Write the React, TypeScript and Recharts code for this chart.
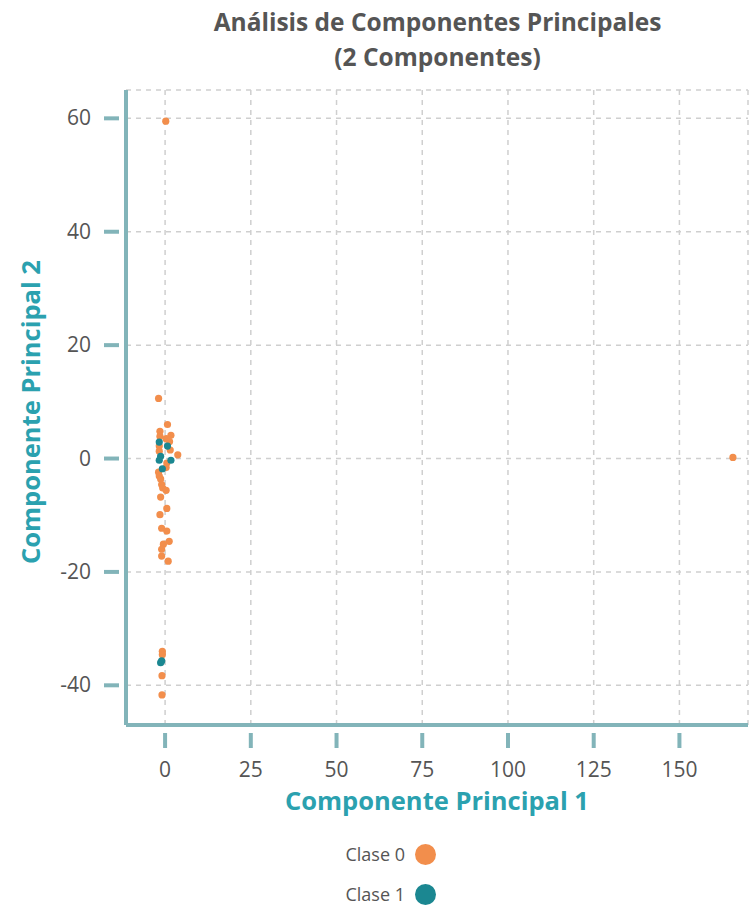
import React from "react";
import { ScatterChart, Scatter, XAxis, YAxis, CartesianGrid } from "recharts";

const C = { axis: "#82B4B9", grid: "#CFCFCF", tick: "#555555", title: "#555555", label: "#2BA1AF", c0: "#F28E4C", c1: "#1B8791" };
const FONT = "'Open Sans', 'DejaVu Sans', sans-serif";

const X_TICKS = [0, 25, 50, 75, 100, 125, 150];
const Y_TICKS = [-40, -20, 0, 20, 40, 60];

const CLASE_0 = [
  { x: 0.2, y: 59.5 }, { x: 165.6, y: 0.2 },
  { x: -1.9, y: 10.6 }, { x: 0.7, y: 6.0 }, { x: -1.5, y: 4.8 }, { x: 1.7, y: 4.1 },
  { x: -1.5, y: 3.9 }, { x: 0.3, y: 3.5 }, { x: 1.3, y: 3.0 }, { x: -1.7, y: 2.2 },
  { x: 1.5, y: 1.5 }, { x: 3.7, y: 0.65 }, { x: -1.7, y: 1.3 }, { x: 0.5, y: -0.8 },
  { x: 0.3, y: -1.6 }, { x: -1.9, y: -2.4 }, { x: -1.7, y: -3.1 }, { x: -1.3, y: -3.6 },
  { x: -1.0, y: -4.6 }, { x: -0.7, y: -5.2 }, { x: 0.3, y: -5.6 }, { x: -1.3, y: -6.8 },
  { x: 0.5, y: -8.8 }, { x: -1.5, y: -9.9 }, { x: -1.0, y: -12.3 }, { x: 0.5, y: -12.8 },
  { x: 1.2, y: -14.6 }, { x: -0.5, y: -15.1 }, { x: -1.0, y: -16.0 }, { x: -1.0, y: -17.2 },
  { x: 0.9, y: -18.1 }, { x: -0.8, y: -34.0 }, { x: -0.8, y: -34.6 }, { x: -0.9, y: -38.3 },
  { x: -0.9, y: -41.7 },
];
const CLASE_1 = [
  { x: -1.7, y: 2.9 }, { x: 0.7, y: 2.2 }, { x: -1.3, y: 0.4 }, { x: -1.7, y: -0.3 },
  { x: 1.7, y: -0.3 }, { x: -0.8, y: -1.8 }, { x: -1.3, y: -36.0 }, { x: -1.0, y: -35.7 },
];
const SERIES = [
  { name: "Clase 0", data: CLASE_0, color: C.c0 },
  { name: "Clase 1", data: CLASE_1, color: C.c1 },
];

const dot = (color: string) => (p: any) => <circle cx={p.cx} cy={p.cy} r={3.6} fill={color} />;

function YTick({ x, y, payload }: any) {
  return (
    <g>
      <line x1={x - 22} x2={x - 7} y1={y} y2={y} stroke={C.axis} strokeWidth={4} />
      <text x={x - 35} y={y} dy={7} textAnchor="end" fill={C.tick} fontSize={21} fontFamily={FONT}>{payload.value}</text>
    </g>
  );
}

function XTick({ x, y, payload }: any) {
  return (
    <g>
      <line x1={x} x2={x} y1={y + 8} y2={y + 23} stroke={C.axis} strokeWidth={4} />
      <text x={x} y={y + 52} textAnchor="middle" fill={C.tick} fontSize={21} fontFamily={FONT}>{payload.value}</text>
    </g>
  );
}

export default function App() {
  return (
    <div style={{ position: "absolute", left: 0, top: 0, width: 751, height: 905, background: "#fff", fontFamily: FONT }}>
      <div style={{ position: "absolute", top: 4, left: 0, width: 875, textAlign: "center", fontWeight: 700, fontSize: 24.5, lineHeight: "35px", color: C.title }}>
        Análisis de Componentes Principales<br />(2 Componentes)
      </div>
      <ScatterChart width={751} height={905} margin={{ top: 90, right: 3, left: 0, bottom: 0 }}>
        <CartesianGrid stroke={C.grid} strokeDasharray="5 5" strokeWidth={1.5} />
        <XAxis type="number" dataKey="x" domain={[-11.4, 170]} ticks={X_TICKS} allowDataOverflow
          height={180} tickSize={0} tickMargin={0} tickLine={false} tick={<XTick />}
          axisLine={{ stroke: C.axis, strokeWidth: 4 }} />
        <YAxis type="number" dataKey="y" domain={[-47, 65]} ticks={Y_TICKS} allowDataOverflow
          width={126} tickSize={0} tickMargin={0} tickLine={false} tick={<YTick />}
          axisLine={{ stroke: C.axis, strokeWidth: 4 }} />
        {SERIES.map((s) => (
          <Scatter key={s.name} name={s.name} data={s.data} fill={s.color} shape={dot(s.color)} isAnimationActive={false} />
        ))}
      </ScatterChart>
      <div style={{ position: "absolute", top: 783, left: 126, width: 622, textAlign: "center", fontWeight: 700, fontSize: 25.5, color: C.label }}>
        Componente Principal 1
      </div>
      <div style={{ position: "absolute", left: 30, top: 412, width: 0, height: 0 }}>
        <div style={{ position: "absolute", transform: "translate(-50%, -50%) rotate(-90deg)", whiteSpace: "nowrap", fontWeight: 700, fontSize: 25.5, color: C.label }}>
          Componente Principal 2
        </div>
      </div>
      <div style={{ position: "absolute", left: 0, top: 834, width: 436, fontSize: 18, color: C.tick }}>
        {SERIES.map((s) => (
          <div key={s.name} style={{ display: "flex", alignItems: "center", justifyContent: "flex-end", height: 40, lineHeight: "22px" }}>
            <span>{s.name}</span>
            <span style={{ width: 21, height: 21, borderRadius: 11, background: s.color, marginLeft: 10 }} />
          </div>
        ))}
      </div>
    </div>
  );
}
